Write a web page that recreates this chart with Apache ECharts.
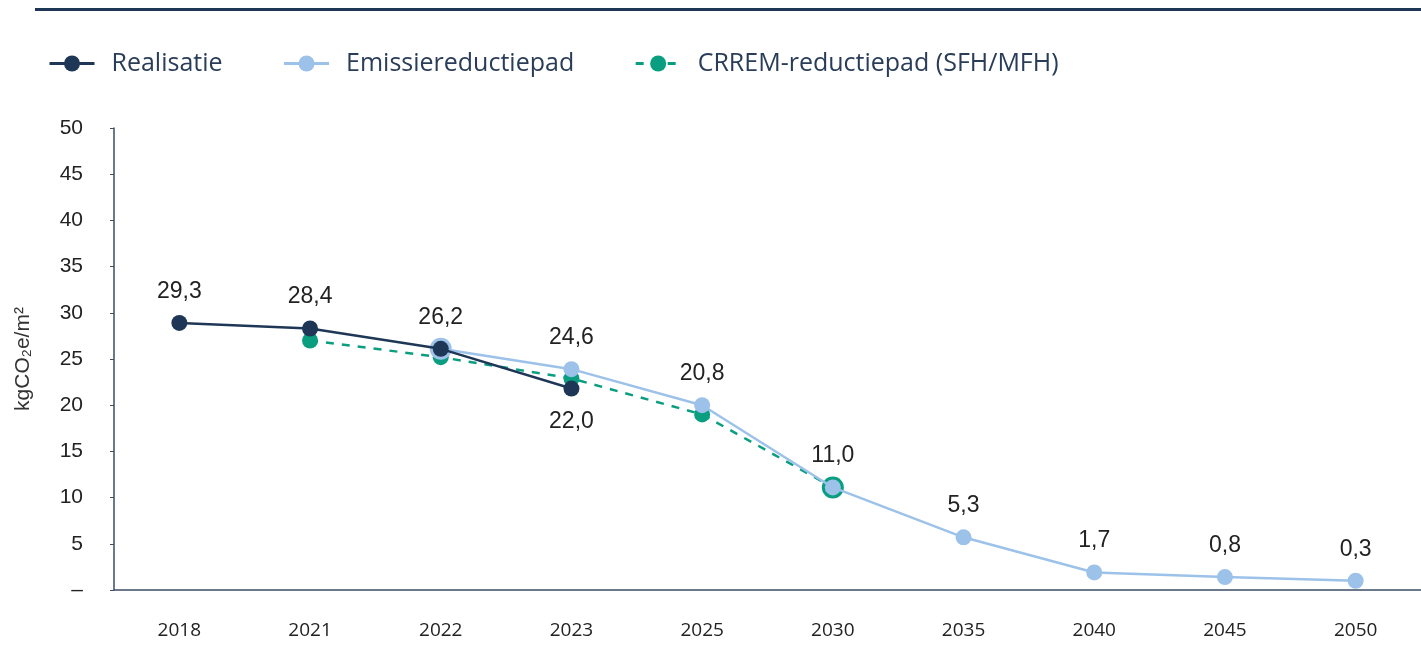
<!DOCTYPE html>
<html>
<head>
<meta charset="utf-8">
<script src="https://cdn.jsdelivr.net/npm/echarts@6/dist/echarts.min.js"></script>
<style>html,body{margin:0;padding:0;background:#fff}#c{width:1421px;height:671px}</style>
</head>
<body>
<div id="c"></div>
<script>
const categories = ['2018','2021','2022','2023','2025','2030','2035','2040','2045','2050'];
const realisatie = [28.9, 28.3, 26.1, 21.8, null, null, null, null, null, null];
const realisatieLabels = ['29,3', '28,4', '26,2', '22,0', '', '', '', '', '', ''];
const emissie = [null, null, 26.1, 23.9, 20.0, 11.1, 5.7, 1.9, 1.4, 1.0];
const emissieLabels = ['', '', '', '24,6', '20,8', '11,0', '5,3', '1,7', '0,8', '0,3'];
const crrem = [null, 27.0, 25.2, 22.9, 19.0, 11.1, null, null, null, null];

const NAVY = '#1f3756', BLUE = '#9cc2ea', GREEN = '#0a9e80';
const font = 'Open Sans';
const numFont = 'Liberation Sans';

function mk(vals, labels, opts) {
  return vals.map((v, i) => {
    const d = { value: v };
    if (opts && opts.sizes && opts.sizes[i]) d.symbolSize = opts.sizes[i];
    if (labels && labels[i]) {
      const below = opts && opts.below && opts.below[i];
      d.label = { show: true, formatter: labels[i], position: below ? 'bottom' : 'top', distance: below ? 14 : 12 };
    }
    return d;
  });
}

const labelStyle = { fontFamily: numFont, fontSize: 23, color: '#222' };

const chart = echarts.init(document.getElementById('c'));
chart.setOption({
  animation: false,
  graphic: [{ type: 'rect', shape: { x: 35, y: 8, width: 1386, height: 3 }, style: { fill: NAVY } }],
  legend: {
    left: 43, top: 46, itemWidth: 45, itemHeight: 20, itemGap: 60,
    lineStyle: { width: 3 },
    textStyle: { fontFamily: font, fontSize: 25, color: '#2a3d58', padding: [0, 0, 0, 12] },
    data: ['Realisatie', 'Emissiereductiepad', 'CRREM-reductiepad (SFH/MFH)']
  },
  grid: { left: 114, right: 0, top: 128, bottom: 81 },
  xAxis: {
    type: 'category', data: categories, boundaryGap: true,
    axisLine: { lineStyle: { color: '#3b4e66', width: 1.5 } },
    axisTick: { show: false },
    axisLabel: { margin: 31, fontFamily: font, fontSize: 19, color: '#222' }
  },
  yAxis: {
    type: 'value', min: 0, max: 50, interval: 5,
    name: 'kgCO₂e/m²', nameLocation: 'middle', nameGap: 80, nameRotate: 90,
    nameTextStyle: { fontFamily: numFont, fontSize: 21, color: '#333' },
    splitLine: { show: false },
    axisLine: { show: true, lineStyle: { color: '#3b4e66', width: 1.5 } },
    axisTick: { show: true, length: 4, lineStyle: { color: '#3b4e66' } },
    axisLabel: { margin: 31, fontFamily: numFont, fontSize: 21, color: '#222',
      formatter: v => v === 0 ? '–' : String(v) }
  },
  series: [
    {
      name: 'CRREM-reductiepad (SFH/MFH)', type: 'line', z: 2,
      data: mk(crrem, null, { sizes: [0, 0, 0, 0, 0, 22] }),
      symbol: 'circle', symbolSize: 16, showSymbol: true,
      itemStyle: { color: GREEN },
      lineStyle: { color: GREEN, width: 2.5, type: [8, 8] }
    },
    {
      name: 'Emissiereductiepad', type: 'line', z: 3,
      data: mk(emissie, emissieLabels, { sizes: [0, 0, 22, 0, 0, 0] }),
      symbol: 'circle', symbolSize: 16,
      itemStyle: { color: BLUE },
      lineStyle: { color: BLUE, width: 2.5 },
      label: labelStyle
    },
    {
      name: 'Realisatie', type: 'line', z: 4,
      data: mk(realisatie, realisatieLabels, { below: [false, false, false, true] }),
      symbol: 'circle', symbolSize: 16,
      itemStyle: { color: NAVY },
      lineStyle: { color: NAVY, width: 2.5 },
      label: labelStyle
    }
  ]
});
</script>
</body>
</html>
